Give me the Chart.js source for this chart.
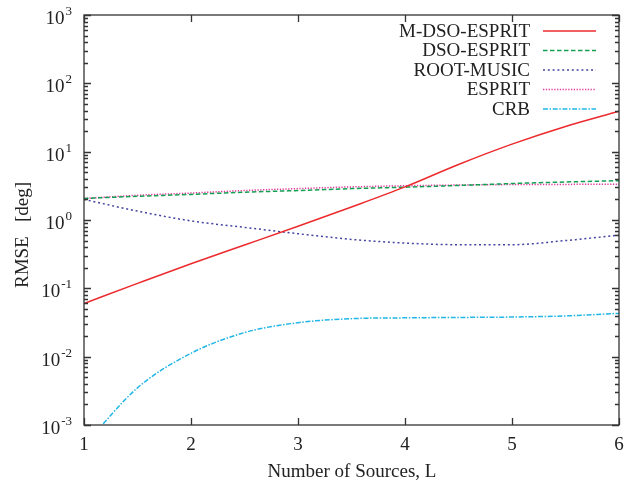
<!DOCTYPE html>
<html>
<head>
<meta charset="utf-8">
<script src="https://cdn.jsdelivr.net/npm/chart.js@4"></script>
<style>
  body { margin: 0; background: #fff; }
</style>
</head>
<body>
<canvas id="rmse" width="626" height="486"></canvas>
<script>
var sources = [1, 1.5, 2, 2.5, 3, 3.5, 4, 4.5, 5, 5.5, 6];
var mDsoEsprit = [0.06, 0.118, 0.229, 0.43, 0.81, 1.55, 3.05, 6.5, 12.9, 23.4, 39];
var dsoEsprit  = [2.07, 2.22, 2.37, 2.55, 2.7, 2.88, 3.02, 3.2, 3.42, 3.6, 3.76];
var rootMusic  = [2.0, 1.35, 0.97, 0.78, 0.63, 0.52, 0.46, 0.435, 0.435, 0.5, 0.6];
var esprit     = [2.07, 2.3, 2.48, 2.7, 2.88, 3.05, 3.17, 3.25, 3.3, 3.32, 3.33];
var crb        = [0.0005, 0.0035, 0.0112, 0.0225, 0.0314, 0.036, 0.037, 0.0375, 0.038, 0.0395, 0.043];

var seriesNames = ["M-DSO-ESPRIT", "DSO-ESPRIT", "ROOT-MUSIC", "ESPRIT", "CRB"];
var xTicks = [1, 2, 3, 4, 5, 6];
var yExponents = [-3, -2, -1, 0, 1, 2, 3];

var lineColors = ["#ec2a2e", "#12a052", "#4444a0", "#e23a9e", "#22b6e8"];
var lineDashes = [[], [4.5, 2.5], [2, 2.8], [1.3, 1.5], [5, 1.6, 1.5, 1.6]];

function toPoints(ys) {
  return sources.map(function (x, i) { return { x: x, y: ys[i] }; });
}

var allSeries = [mDsoEsprit, dsoEsprit, rootMusic, esprit, crb];
var serif = "'Liberation Serif', 'DejaVu Serif', serif";

var framePlugin = {
  id: "frame",
  afterDraw: function (chart) {
    var ctx = chart.ctx;
    var a = chart.chartArea;
    var xs = chart.scales.x;
    var ys = chart.scales.y;
    ctx.save();
    ctx.strokeStyle = "#333";
    ctx.lineWidth = 1.3;
    ctx.strokeRect(a.left, a.top, a.right - a.left, a.bottom - a.top);

    // x ticks, bottom and top
    ctx.beginPath();
    xTicks.forEach(function (t) {
      var px = Math.round(xs.getPixelForValue(t)) + 0.5;
      ctx.moveTo(px, a.bottom); ctx.lineTo(px, a.bottom - 7);
      ctx.moveTo(px, a.top); ctx.lineTo(px, a.top + 7);
    });
    // y ticks, major and minor, both sides
    yExponents.forEach(function (e) {
      for (var k = 1; k <= 9; k++) {
        if (e === 3 && k > 1) break;
        var py = Math.round(ys.getPixelForValue(k * Math.pow(10, e))) + 0.5;
        var len = k === 1 ? 7 : 4;
        ctx.moveTo(a.left, py); ctx.lineTo(a.left + len, py);
        ctx.moveTo(a.right, py); ctx.lineTo(a.right - len, py);
      }
    });
    ctx.stroke();

    // tick labels
    ctx.fillStyle = "#222";
    ctx.textBaseline = "alphabetic";
    ctx.font = "19px " + serif;
    ctx.textAlign = "center";
    xTicks.forEach(function (t) {
      ctx.fillText(String(t), xs.getPixelForValue(t), 450);
    });
    yExponents.forEach(function (e) {
      var py = ys.getPixelForValue(Math.pow(10, e));
      var ex = String(e);
      ctx.font = "13px " + serif;
      var we = ctx.measureText(ex).width;
      ctx.font = "19px " + serif;
      var wb = ctx.measureText("10").width;
      var right = 72;
      ctx.textAlign = "left";
      ctx.fillText("10", right - we - wb - 1, py + 9);
      ctx.font = "13px " + serif;
      ctx.fillText(ex, right - we, py);
    });

    // axis titles
    ctx.font = "19px " + serif;
    ctx.textAlign = "center";
    ctx.fillText("Number of Sources, L", 352, 477);
    ctx.save();
    ctx.translate(28, 235);
    ctx.rotate(-Math.PI / 2);
    ctx.fillText("RMSE   [deg]", 0, 0);
    ctx.restore();

    // legend
    chart.data.datasets.forEach(function (ds, i) {
      var ly = 31 + i * 19.5;
      ctx.font = "19px " + serif;
      ctx.textAlign = "right";
      ctx.textBaseline = "middle";
      ctx.fillStyle = "#222";
      ctx.fillText(ds.label, 530, ly + 1);
      ctx.beginPath();
      ctx.strokeStyle = ds.borderColor;
      ctx.lineWidth = ds.borderWidth;
      ctx.setLineDash(ds.borderDash);
      ctx.moveTo(543, ly);
      ctx.lineTo(596, ly);
      ctx.stroke();
      ctx.setLineDash([]);
    });
    ctx.restore();
  }
};

new Chart("rmse", {
  type: "line",
  data: {
    datasets: allSeries.map(function (ys, i) {
      return {
        label: seriesNames[i],
        data: toPoints(ys),
        borderColor: lineColors[i],
        borderDash: lineDashes[i],
        borderWidth: 1.5,
        pointRadius: 0,
        fill: false,
        cubicInterpolationMode: "monotone"
      };
    })
  },
  options: {
    responsive: false,
    animation: false,
    layout: { padding: { left: 84, right: 7, top: 15, bottom: 61 } },
    plugins: {
      legend: { display: false },
      tooltip: { enabled: false }
    },
    scales: {
      x: { type: "linear", min: 1, max: 6, display: false },
      y: { type: "logarithmic", min: 0.001, max: 1000, display: false }
    }
  },
  plugins: [framePlugin]
});
</script>
</body>
</html>
